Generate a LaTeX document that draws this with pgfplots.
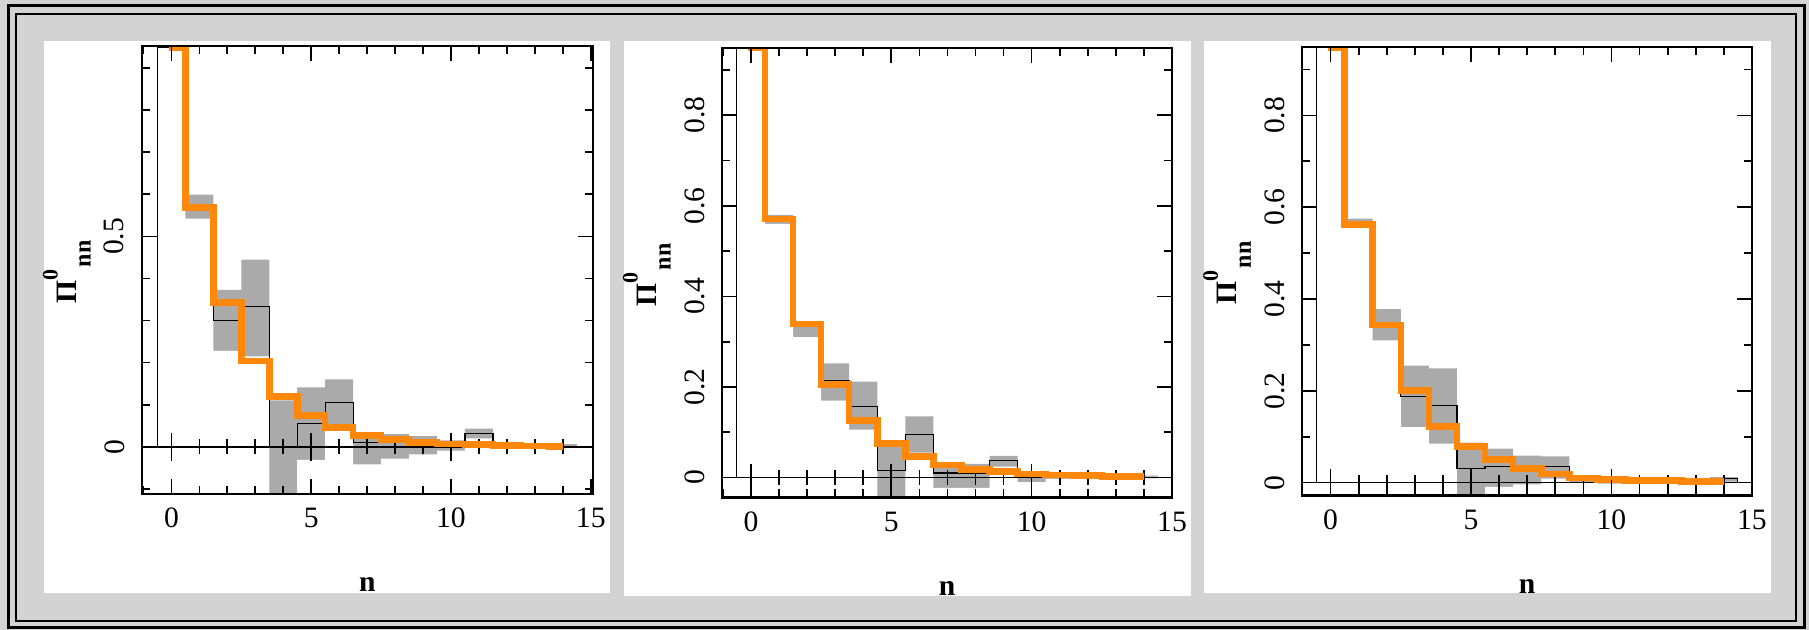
\documentclass[border=0pt]{standalone}
\usepackage{fontspec}
\setmainfont{Liberation Serif}
\usepackage{pgfplots}
\pgfplotsset{compat=1.18}

\definecolor{bg}{RGB}{211,211,211}
\definecolor{boxgray}{RGB}{170,170,170}
\definecolor{model}{RGB}{255,136,10}

\newcommand{\fs}{\fontsize{14.8}{17}\selectfont}
\newcommand{\pilabel}{Π\raisebox{9.5pt}{\fontsize{11}{11}\selectfont 0}\kern1.2pt\raisebox{-7pt}{\fontsize{12}{12}\selectfont nn}}

\pgfplotsset{
  panel/.style={
    scale only axis, anchor=south west,
    axis on top,
    xtick={0,5,10,15},
    minor xtick={-1,1,2,3,4,6,7,8,9,11,12,13,14},
    tick align=inside,
    major tick length=7.5pt, minor tick length=4pt,
    axis line style={line width=1.05pt},
    tick style={black, line width=0.85pt},
    tick label style={font=\fs},
    /pgf/number format/assume math mode=true,
    xticklabel shift=3.6pt,
    yticklabel style={rotate=90, anchor=south},
    yticklabel shift=5.2pt,
  },
  stair/.style={const plot mark left, mark=none, line join=miter},
  band/.style={stair, draw=none, fill=boxgray},
  unband/.style={stair, draw=none, fill=white},
  obs/.style={stair, black, line width=0.6pt},
  mod/.style={stair, model, line width=3.3pt, line cap=butt},
}

% zero line with its own ticks
\newcommand{\zeroline}{%
  \addplot[black, line width=0.85pt, forget plot] coordinates {(-2,0) (16,0)};
  \pgfplotsinvokeforeach{1,2,3,4,6,7,8,9,11,12,13,14}{%
    \draw[line width=0.85pt] ([yshift=-3.75pt]axis cs:##1,0) -- ([yshift=3.75pt]axis cs:##1,0);}
  \pgfplotsinvokeforeach{0,5,10}{%
    \draw[line width=0.85pt] ([yshift=-7pt]axis cs:##1,0) -- ([yshift=7pt]axis cs:##1,0);}
}

\begin{document}
\begin{tikzpicture}
\begin{scope}[x=0.5pt, y=-0.5pt, yshift=315pt]
\useasboundingbox (0,0) rectangle (1809,630);
\fill[bg] (0,0) rectangle (1809,630);
\draw[line width=1.7pt] (8.3,5.7) rectangle (1804.7,627.7);
\draw[line width=0.6pt] (16,14) rectangle (1796,621);
\fill[white] (44,41) rectangle (610,593);
\fill[white] (624,41) rectangle (1191,596);
\fill[white] (1204,41) rectangle (1770.5,593.3);
\end{scope}

% ---------------- panel 1
\begin{axis}[panel, at={(70.9pt,68.05pt)},
  width=225.6pt, height=224.05pt,
  xmin=-1.06, xmax=15.08, ymin=-0.112, ymax=0.953,
  ytick={0,0.5}, minor ytick={-0.1,0.1,0.2,0.3,0.4,0.6,0.7,0.8,0.9}]
  % upper edge of the grey band
  \addplot[band] coordinates {
    (0.5,0.599) (1.5,0.373) (2.5,0.445) (3.5,0.110) (4.5,0.141) (5.5,0.160)
    (6.5,0.035) (7.5,0.030) (8.5,0.025) (9.5,0.015) (10.5,0.043) (11.5,0.008)
    (12.5,0.006) (13.5,0.006) (14.5,0.006) (14.5,-1) (0.5,-1)};
  % lower edge of the grey band
  \addplot[unband] coordinates {
    (0.4,0.542) (1.5,0.228) (2.5,0.215) (3.5,-0.130) (4.5,-0.031) (5.5,0.045)
    (6.5,-0.042) (7.5,-0.028) (8.5,-0.018) (9.5,-0.009) (10.5,0.020) (11.5,-0.004)
    (12.5,-0.003) (13.5,-0.003) (14.6,-0.003) (14.6,-1) (0.4,-1)};
  \zeroline
  \addplot[obs] coordinates {
    (-0.5,0) (-0.5,0.948) (0.5,0.570) (1.5,0.300) (2.5,0.333) (3.5,0.000)
    (4.5,0.055) (5.5,0.106) (6.5,0.010) (7.5,0.015) (8.5,0.008) (9.5,0.004)
    (10.5,0.031) (11.5,0.003) (12.5,0.002) (13.5,0.001) (14.5,0.001) (14.5,0)};
  \addplot[mod] coordinates {
    (-0.1,0.948) (0.5,0.569) (1.5,0.343) (2.5,0.204) (3.5,0.120) (4.5,0.074)
    (5.5,0.046) (6.5,0.027) (7.5,0.017) (8.5,0.010) (9.5,0.007) (10.5,0.005)
    (11.5,0.003) (12.5,0.002) (13.5,0.001) (14.0,0.001)};
\end{axis}

% ---------------- panel 2
\begin{axis}[panel, at={(361pt,66.25pt)},
  width=225pt, height=224.65pt,
  xmin=-1.03, xmax=15.0, ymin=-0.044, ymax=0.948,
  ytick={0,0.2,0.4,0.6,0.8}, minor ytick={0.1,0.3,0.5,0.7,0.9}]
  \addplot[band] coordinates {
    (0.5,0.580) (1.5,0.340) (2.5,0.252) (3.5,0.212) (4.5,0.068) (5.5,0.135)
    (6.5,0.030) (7.5,0.030) (8.5,0.048) (9.5,0.012) (10.5,0.006) (11.5,0.005)
    (12.5,0.004) (13.5,0.004) (14.5,0.004) (14.5,-1) (0.5,-1)};
  \addplot[unband] coordinates {
    (0.4,0.560) (1.5,0.310) (2.5,0.170) (3.5,0.106) (4.5,-0.060) (5.5,0.055)
    (6.5,-0.023) (7.5,-0.023) (8.5,0.024) (9.5,-0.010) (10.5,-0.003) (11.5,-0.002)
    (12.5,-0.002) (13.5,-0.002) (14.6,-0.002) (14.6,-1) (0.4,-1)};
  \zeroline
  \addplot[obs] coordinates {
    (-0.5,0) (-0.5,0.948) (0.5,0.571) (1.5,0.333) (2.5,0.215) (3.5,0.157)
    (4.5,0.015) (5.5,0.095) (6.5,0.010) (7.5,0.010) (8.5,0.037) (9.5,0.003)
    (10.5,0.003) (11.5,0.002) (12.5,0.001) (13.5,0.001) (14.5,0.001) (14.5,0)};
  \addplot[mod] coordinates {
    (-0.1,0.948) (0.5,0.571) (1.5,0.339) (2.5,0.206) (3.5,0.126) (4.5,0.075)
    (5.5,0.046) (6.5,0.028) (7.5,0.018) (8.5,0.013) (9.5,0.008) (10.5,0.006)
    (11.5,0.004) (12.5,0.003) (13.5,0.002) (14.0,0.002)};
\end{axis}

% ---------------- panel 3
\begin{axis}[panel, at={(651.1pt,67.25pt)},
  width=224.85pt, height=224.25pt,
  xmin=-1.01, xmax=15.0, ymin=-0.028, ymax=0.949,
  ytick={0,0.2,0.4,0.6,0.8}, minor ytick={0.1,0.3,0.5,0.7,0.9}]
  \addplot[band] coordinates {
    (0.5,0.575) (1.5,0.378) (2.5,0.255) (3.5,0.249) (4.5,0.087) (5.5,0.074)
    (6.5,0.059) (7.5,0.057) (8.5,0.010) (9.5,0.008) (10.5,0.006) (11.5,0.005)
    (12.5,0.005) (13.5,0.012) (14.5,0.012) (14.5,-1) (0.5,-1)};
  \addplot[unband] coordinates {
    (0.4,0.555) (1.5,0.310) (2.5,0.121) (3.5,0.085) (4.5,-0.030) (5.5,-0.009)
    (6.5,-0.004) (7.5,0.009) (8.5,0.000) (9.5,-0.002) (10.5,-0.002) (11.5,-0.002)
    (12.5,-0.002) (13.5,0.002) (14.6,0.002) (14.6,-1) (0.4,-1)};
  \zeroline
  \addplot[obs] coordinates {
    (-0.5,0) (-0.5,0.948) (0.5,0.565) (1.5,0.340) (2.5,0.188) (3.5,0.168)
    (4.5,0.031) (5.5,0.035) (6.5,0.030) (7.5,0.035) (8.5,0.005) (9.5,0.003)
    (10.5,0.002) (11.5,0.002) (12.5,0.002) (13.5,0.009) (14.5,0.009) (14.5,0)};
  \addplot[mod] coordinates {
    (-0.1,0.948) (0.5,0.562) (1.5,0.343) (2.5,0.201) (3.5,0.122) (4.5,0.079)
    (5.5,0.051) (6.5,0.031) (7.5,0.019) (8.5,0.010) (9.5,0.007) (10.5,0.005)
    (11.5,0.004) (12.5,0.003) (13.5,0.002) (14.0,0.002)};
\end{axis}

% axis titles
\begin{scope}[x=0.5pt, y=-0.5pt, yshift=315pt]
\node[rotate=90, anchor=base, font=\fs\bfseries] at (76.7,272) {\pilabel};
\node[rotate=90, anchor=base, font=\fs\bfseries] at (656.7,275) {\pilabel};
\node[rotate=90, anchor=base, font=\fs\bfseries] at (1236.9,273) {\pilabel};
\node[anchor=base, font=\fs\bfseries] at (367.4,591.7) {n};
\node[anchor=base, font=\fs\bfseries] at (947,595.3) {n};
\node[anchor=base, font=\fs\bfseries] at (1527,593.3) {n};
\end{scope}
\end{tikzpicture}
\end{document}
